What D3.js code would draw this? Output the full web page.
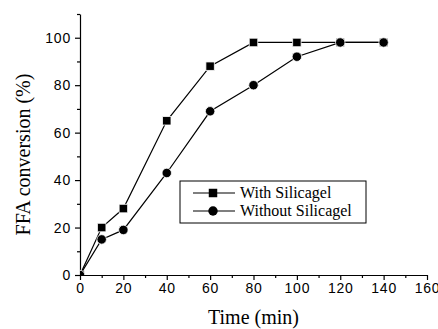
<!DOCTYPE html>
<html>
<head>
<meta charset="utf-8">
<script src="https://cdn.jsdelivr.net/npm/d3@7"></script>
<style>
  body { margin: 0; background: #fff; }
  svg { display: block; }
  .tick text { font-family: "Liberation Sans", Arial, sans-serif; font-size: 14px; letter-spacing: 0.8px; fill: #000; }
  .title { font-family: "Liberation Serif", "Times New Roman", serif; font-size: 20px; fill: #000; }
  .legend text { font-family: "Liberation Serif", "Times New Roman", serif; font-size: 16px; fill: #000; }
</style>
</head>
<body>
<svg id="chart"></svg>
<script>
// data
const times = [0, 10, 20, 40, 60, 80, 100, 120, 140];
const withSilicagel = [0, 20, 28, 65, 88, 98, 98, 98, 98];
const withoutSilicagel = [0, 15, 19, 43, 69, 80, 92, 98, 98];
const seriesNames = ["With Silicagel", "Without Silicagel"];
const xTicks = [0, 20, 40, 60, 80, 100, 120, 140, 160];
const yTicks = [0, 20, 40, 60, 80, 100];

const width = 438, height = 329;
const margin = { top: 14, right: 11, bottom: 54, left: 80 };
const innerW = width - margin.left - margin.right,
  innerH = height - margin.top - margin.bottom;

const svg = d3.select("#chart").attr("width", width).attr("height", height);
const g = svg.append("g")
  .attr("transform", "translate(" + margin.left + "," + margin.top + ")");

const x = d3.scaleLinear().domain([0, 160]).range([0, innerW]);
const y = d3.scaleLinear().domain([0, 110]).range([innerH, 0]);

// clip so the origin markers are cut at the axes
svg.append("defs").append("clipPath").attr("id", "plot")
  .append("rect").attr("width", innerW).attr("height", innerH);

// minor ticks
g.append("g")
  .attr("transform", "translate(0," + innerH + ")")
  .call(d3.axisBottom(x).tickValues(d3.range(10, 160, 20)).tickSize(3).tickFormat(""))
  .call(s => s.select(".domain").remove());
g.append("g")
  .call(d3.axisLeft(y).tickValues(d3.range(10, 111, 20)).tickSize(3).tickFormat(""))
  .call(s => s.select(".domain").remove());

// main axes
g.append("g")
  .attr("transform", "translate(0," + innerH + ")")
  .call(d3.axisBottom(x).tickValues(xTicks).tickSize(5).tickSizeOuter(0).tickPadding(3));
g.append("g")
  .call(d3.axisLeft(y).tickValues(yTicks).tickSize(5).tickSizeOuter(0).tickPadding(4));
g.selectAll(".domain, .tick line").attr("stroke", "#000").attr("stroke-width", 1.2);

const plot = g.append("g").attr("clip-path", "url(#plot)");
const line = d3.line().x((d, i) => x(times[i])).y(d => y(d));

function drawSeries(values, symbol) {
  plot.append("path").datum(values)
    .attr("fill", "none").attr("stroke", "#000").attr("stroke-width", 1.2)
    .attr("d", line);
  plot.selectAll(null).data(values).enter().append("path")
    .attr("transform", (d, i) => "translate(" + x(times[i]) + "," + y(d) + ")")
    .attr("d", d3.symbol().type(symbol).size(symbol === d3.symbolSquare ? 72 : 70))
    .attr("fill", "#000").attr("stroke", "#fff").attr("stroke-width", 0.8);
}
drawSeries(withSilicagel, d3.symbolSquare);
drawSeries(withoutSilicagel, d3.symbolCircle);

// legend
const legend = svg.append("g").attr("class", "legend");
legend.append("rect")
  .attr("x", 180).attr("y", 181).attr("width", 186).attr("height", 42)
  .attr("fill", "#fff").attr("stroke", "#000").attr("stroke-width", 1);
const symbols = [d3.symbolSquare, d3.symbolCircle];
seriesNames.forEach((name, i) => {
  const ly = 193 + i * 18;
  legend.append("line").attr("x1", 193).attr("x2", 235).attr("y1", ly).attr("y2", ly)
    .attr("stroke", "#000").attr("stroke-width", 1.2);
  legend.append("path")
    .attr("transform", "translate(213," + ly + ")")
    .attr("d", d3.symbol().type(symbols[i]).size(i === 0 ? 72 : 70))
    .attr("fill", "#000");
  legend.append("text").attr("x", 240).attr("y", ly + 5).text(name);
});

// axis titles
svg.append("text").attr("class", "title")
  .attr("x", margin.left + x(80)).attr("y", 324)
  .attr("text-anchor", "middle").text("Time (min)");
svg.append("text").attr("class", "title")
  .attr("transform", "translate(30," + (margin.top + innerH / 2 + 10) + ") rotate(-90)")
  .attr("text-anchor", "middle").text("FFA conversion (%)");
</script>
</body>
</html>
